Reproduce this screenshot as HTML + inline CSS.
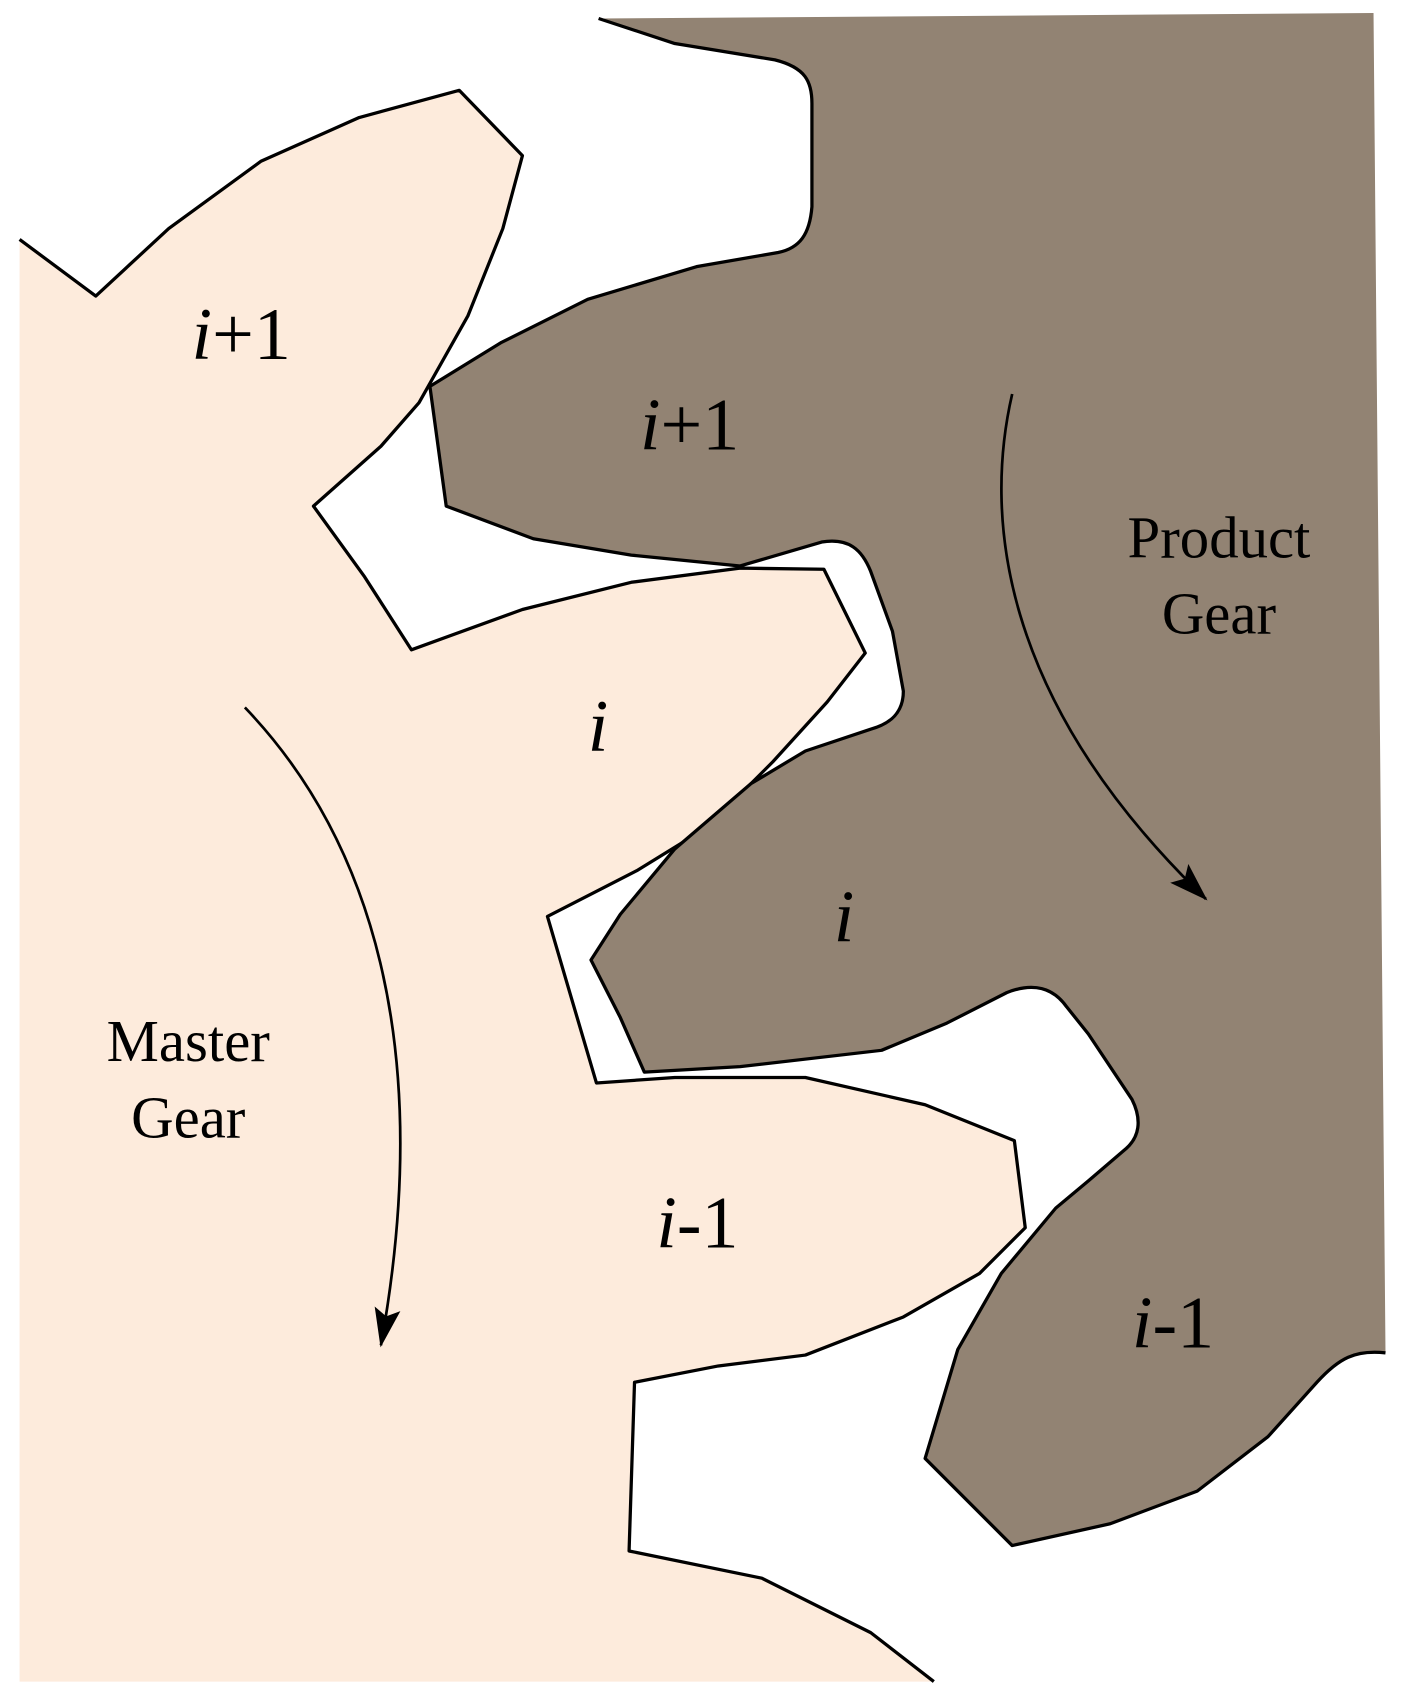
<!DOCTYPE html>
<html><head><meta charset="utf-8"><style>
html,body{margin:0;padding:0;background:#fff;}
svg{display:block;}
text{font-family:"Liberation Serif",serif;fill:#000;}
</style></head><body>
<svg width="1404" height="1699" viewBox="0 0 1290 1561" preserveAspectRatio="none" xmlns="http://www.w3.org/2000/svg">
<defs>
<marker id="ah2" markerWidth="36" markerHeight="24" refX="34" refY="12" orient="auto" markerUnits="userSpaceOnUse"><path d="M0,0 L36,12 L0,24 L7,12 Z" fill="#000"/></marker></defs>
<path fill="#fdebdc" stroke="none" d="M18,220 L88,272 L155,210 L240,148 L330,108 L422,83 L480,143 L462,210 L430,290 L385,370 L350,410 L288,465 L335,530 L378,597 L480,560 L580,535 L680,522 L757,523 L795,600 L760,645 L710,700 L650,760 L585,800 L503,842 L520,900 L548,995 L620,990 L740,990 L850,1015 L932,1048 L942,1128 L900,1170 L830,1210 L740,1245 L660,1255 L583,1270 L578,1425 L700,1450 L800,1500 L858,1545 L18,1545 Z"/>
<path fill="none" stroke="#000" stroke-width="3" stroke-linejoin="round" d="M18,220 L88,272 L155,210 L240,148 L330,108 L422,83 L480,143 L462,210 L430,290 L385,370 L350,410 L288,465 L335,530 L378,597 L480,560 L580,535 L680,522 L757,523 L795,600 L760,645 L710,700 L650,760 L585,800 L503,842 L520,900 L548,995 L620,990 L740,990 L850,1015 L932,1048 L942,1128 L900,1170 L830,1210 L740,1245 L660,1255 L583,1270 L578,1425 L700,1450 L800,1500 L858,1545"/>
<path fill="#928373" stroke="none" d="M550,17 L620,40 L712,55 C740,62 746,75 746,95 L746,190 C744,215 735,228 715,232 L640,245 L540,275 L460,315 L395,355 L410,465 L490,495 L580,510 L680,520 L755,498 C780,494 792,505 800,525 L820,580 L830,635 C830,655 818,665 800,670 L740,690 L690,720 L620,780 L570,840 L543,882 L570,935 L592,985 L680,980 L810,965 L870,940 L925,912 C950,902 968,908 980,925 L1000,950 L1040,1010 C1050,1030 1046,1045 1035,1055 L1000,1085 L970,1110 L920,1170 L880,1240 L850,1340 L930,1420 L1020,1400 L1100,1370 L1165,1320 L1210,1270 C1230,1248 1245,1240 1273,1243 L1262,12 Z"/>
<path fill="none" stroke="#000" stroke-width="3" stroke-linejoin="round" d="M550,17 L620,40 L712,55 C740,62 746,75 746,95 L746,190 C744,215 735,228 715,232 L640,245 L540,275 L460,315 L395,355 L410,465 L490,495 L580,510 L680,520 L755,498 C780,494 792,505 800,525 L820,580 L830,635 C830,655 818,665 800,670 L740,690 L690,720 L620,780 L570,840 L543,882 L570,935 L592,985 L680,980 L810,965 L870,940 L925,912 C950,902 968,908 980,925 L1000,950 L1040,1010 C1050,1030 1046,1045 1035,1055 L1000,1085 L970,1110 L920,1170 L880,1240 L850,1340 L930,1420 L1020,1400 L1100,1370 L1165,1320 L1210,1270 C1230,1248 1245,1240 1273,1243"/>
<path d="M930,362 C905,470 915,640 1108,826" fill="none" stroke="#000" stroke-width="2.5" marker-end="url(#ah2)"/>
<path d="M225,650 C340,770 400,960 350,1236" fill="none" stroke="#000" stroke-width="2.5" marker-end="url(#ah2)"/>
<g font-size="68">
<text x="176" y="330"><tspan font-style="italic">i</tspan>+1</text>
<text x="588" y="413"><tspan font-style="italic">i</tspan>+1</text>
<text x="540" y="690" font-style="italic">i</text>
<text x="766" y="865" font-style="italic">i</text>
<text x="603" y="1146"><tspan font-style="italic">i</tspan>-1</text>
<text x="1040" y="1238"><tspan font-style="italic">i</tspan>-1</text>
</g>
<g font-size="54" text-anchor="middle">
<text x="1120" y="512">Product</text>
<text x="1120" y="582">Gear</text>
<text x="173" y="975">Master</text>
<text x="173" y="1045">Gear</text>
</g>
</svg>
</body></html>
